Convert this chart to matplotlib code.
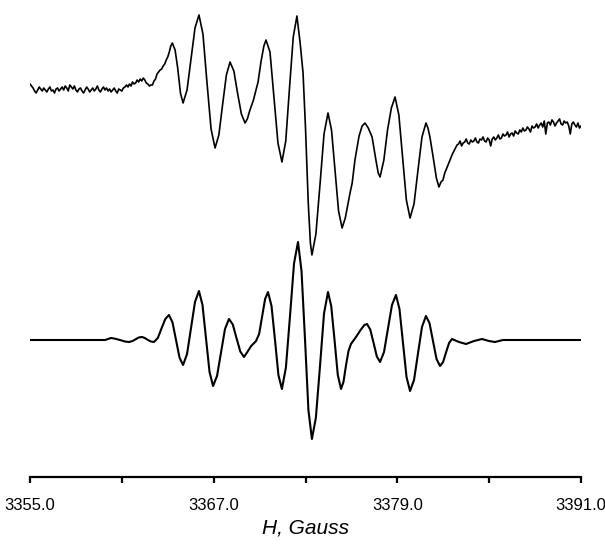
import matplotlib
matplotlib.use('Agg')
import matplotlib.pyplot as plt

# magnetic field (Gauss) and signal (arb. units)
# experimental spectrum (top)
exp_field = [
    3355.0, 3355.1, 3355.2, 3355.3, 3355.4, 3355.5, 3355.6, 3355.7, 3355.8, 3355.9,
    3356.0, 3356.1, 3356.2, 3356.3, 3356.4, 3356.5, 3356.6, 3356.7, 3356.8, 3356.9,
    3357.0, 3357.1, 3357.2, 3357.3, 3357.4, 3357.5, 3357.6, 3357.7, 3357.8, 3357.9,
    3358.0, 3358.1, 3358.2, 3358.3, 3358.4, 3358.5, 3358.6, 3358.7, 3358.8, 3358.9,
    3359.0, 3359.1, 3359.2, 3359.3, 3359.4, 3359.5, 3359.6, 3359.7, 3359.8, 3359.9,
    3360.0, 3360.1, 3360.2, 3360.3, 3360.4, 3360.5, 3360.6, 3360.7, 3360.8, 3360.9,
    3361.0, 3361.1, 3361.2, 3361.3, 3361.4, 3361.5, 3361.6, 3361.7, 3361.8, 3361.9,
    3362.0, 3362.1, 3362.2, 3362.3, 3362.4, 3362.5, 3362.6, 3362.7, 3362.8, 3362.9,
    3363.0, 3363.1, 3363.2, 3363.3, 3363.4, 3363.5, 3363.6, 3363.7, 3363.8, 3363.9,
    3364.0, 3364.1, 3364.2, 3364.3,
    3364.48, 3364.65, 3364.83, 3365.00,
    3365.26, 3365.52, 3365.78, 3366.04,
    3366.30, 3366.56, 3366.83, 3367.09,
    3367.34, 3367.58, 3367.83, 3368.07,
    3368.32, 3368.56, 3368.81, 3369.05,
    3369.20, 3369.37, 3369.60, 3369.90, 3370.10, 3370.28, 3370.42,
    3370.68, 3370.94, 3371.20, 3371.46,
    3371.71, 3371.95, 3372.20, 3372.44,
    3372.65, 3372.84, 3373.00, 3373.18, 3373.32, 3373.42,
    3373.68, 3373.95, 3374.21, 3374.47,
    3374.70, 3374.93, 3375.16, 3375.39,
    3375.60, 3375.91, 3376.05, 3376.23, 3376.50, 3376.70, 3376.89,
    3377.10, 3377.35, 3377.60, 3377.75, 3377.87,
    3378.12, 3378.36, 3378.61, 3378.85,
    3379.10, 3379.34, 3379.59, 3379.83,
    3380.09, 3380.35, 3380.61, 3380.87,
    3381.00, 3381.13, 3381.35, 3381.55, 3381.72, 3381.85, 3381.98, 3382.10,
    3382.31, 3382.60, 3382.90,
    3383.0, 3383.1, 3383.2, 3383.3, 3383.4, 3383.5, 3383.6, 3383.7, 3383.8, 3383.9,
    3384.0, 3384.1, 3384.2, 3384.3, 3384.4, 3384.5, 3384.6, 3384.7, 3384.8, 3384.9,
    3385.0, 3385.1, 3385.2, 3385.3, 3385.4, 3385.5, 3385.6, 3385.7, 3385.8, 3385.9,
    3386.0, 3386.1, 3386.2, 3386.3, 3386.4, 3386.5, 3386.6, 3386.7, 3386.8, 3386.9,
    3387.0, 3387.1, 3387.2, 3387.3, 3387.4, 3387.5, 3387.6, 3387.7, 3387.8, 3387.9,
    3388.0, 3388.1, 3388.2, 3388.3, 3388.4, 3388.5, 3388.6, 3388.7, 3388.8, 3388.9,
    3389.0, 3389.1, 3389.2, 3389.3, 3389.4, 3389.5, 3389.6, 3389.7, 3389.8, 3389.9,
    3390.0, 3390.1, 3390.2, 3390.3, 3390.4, 3390.5, 3390.6, 3390.7, 3390.8, 3390.9,
    3391.0,
]
exp_signal = [
    4, 2, 0, -3, -5, -2, 1, -1, -3, 0,
    -2, -4, -1, 1, -3, -2, -5, -1, 0, -3,
    -1, 1, -2, 2, 0, -3, 3, 1, -1, 2,
    -2, -4, -1, 0, -3, -5, -2, 1, -1, -4,
    -2, 0, -3, -1, 2, -2, -4, -1, 1, -2,
    0, -3, -1, -4, -2, 0, -3, -5, -1, -2,
    -3, 0, 1, 3, 1, 4, 2, 6, 4, 5,
    8, 6, 9, 7, 10, 8, 5, 4, 2, 3,
    3, 7, 9, 14, 16, 18, 19, 22, 24, 28,
    31, 36, 42, 45,
    38, 20, -5, -15,
    -2, 29, 60, 73,
    54, 6, -41, -60,
    -47, -17, 13, 26,
    17, -5, -26, -35,
    -31, -22, -12, 6, 27, 42, 48,
    36, -10, -55, -74,
    -53, -1, 51, 72,
    45, 15, -40, -115, -155, -167,
    -146, -96, -46, -25,
    -42, -82, -123, -140,
    -130, -105, -95, -72, -48, -38, -35,
    -40, -49, -72, -85, -89,
    -72, -42, -20, -9,
    -27, -69, -112, -130,
    -116, -82, -49, -35,
    -40, -49, -70, -90, -99, -94, -92, -85,
    -77, -66, -57,
    -56, -53, -58, -55, -54, -51, -55, -56, -52, -54,
    -53, -50, -54, -55, -51, -52, -49, -53, -54, -50,
    -52, -58, -51, -49, -52, -50, -47, -51, -50, -46,
    -48, -47, -44, -49, -46, -45, -48, -43, -45, -46,
    -42, -44, -40, -43, -42, -39, -41, -44, -38, -40,
    -39, -36, -40, -37, -35, -39, -33, -46, -35, -34,
    -37, -32, -34, -38, -35, -33, -31, -36, -37, -33,
    -35, -34, -38, -46, -36, -34, -37, -39, -35, -40,
    -38,
]

# simulated spectrum (bottom)
sim_field = [
    3355.00, 3359.90, 3360.10, 3360.29, 3360.50, 3360.88, 3361.20, 3361.47,
    3361.70, 3361.93, 3362.10, 3362.32, 3362.50, 3362.71, 3362.90, 3363.10,
    3363.35, 3363.59, 3363.84, 3364.08,
    3364.31, 3364.54, 3364.77, 3365.00,
    3365.26, 3365.52, 3365.78, 3366.04,
    3366.27, 3366.50, 3366.73, 3366.96,
    3367.22, 3367.48, 3367.74, 3368.00,
    3368.25, 3368.49, 3368.74, 3368.98,
    3369.20, 3369.45, 3369.77, 3369.97, 3370.16, 3370.36, 3370.55,
    3370.78, 3371.01, 3371.23, 3371.46,
    3371.72, 3371.99, 3372.25, 3372.51,
    3372.74, 3372.97, 3373.19, 3373.42,
    3373.68, 3373.95, 3374.21, 3374.47,
    3374.68, 3374.90, 3375.11, 3375.32,
    3375.48, 3375.65, 3375.81, 3375.97,
    3376.30, 3376.60, 3376.85, 3377.02,
    3377.23, 3377.45, 3377.66, 3377.87,
    3378.13, 3378.39, 3378.65, 3378.91,
    3379.14, 3379.37, 3379.60, 3379.83,
    3380.09, 3380.35, 3380.61, 3380.87,
    3381.10, 3381.33, 3381.56, 3381.79,
    3381.99, 3382.18, 3382.38, 3382.57,
    3383.03, 3383.49, 3384.01, 3384.53, 3384.99, 3385.38, 3385.90, 3391.00,
]
sim_signal = [
    0, 0, 1, 2, 1.5, 0, -1.5, -2,
    -1, 1, 2.5, 3, 2, 0, -1.5, -2,
    2, 11.5, 21, 25,
    17.7, 0, -17.7, -25,
    -14, 12, 38, 49,
    35, 1.5, -32, -46,
    -36, -12.5, 11, 21,
    15.5, 2, -11.5, -17,
    -12, -6, -1, 6, 23, 41, 48,
    34, -0.5, -35, -49,
    -27.5, 24.5, 76.5, 98,
    69, 0, -70, -99,
    -77.5, -25.5, 26.5, 48,
    34, -0.5, -35, -49,
    -42, -25, -11, -4,
    3, 10, 15, 16,
    10.5, -3, -16.5, -22,
    -12, 11.5, 35, 45,
    31, -3, -37, -51,
    -40, -13.5, 13, 24,
    17, -1, -19, -26,
    -22, -12.5, -3, 1,
    -2, -4, -1, 1, -1, -2, 0, 0,
]

tick_pos = [3355, 3361, 3367, 3373, 3379, 3385, 3391]
tick_labels = ['3355.0', '', '3367.0', '', '3379.0', '', '3391.0']

fig = plt.figure(figsize=(6.05, 5.45), dpi=100)
ax = fig.add_axes([30 / 605, 68 / 545, 551 / 605, 472 / 545])

ax.plot(exp_field, [389 + v for v in exp_signal], color='black', lw=1.2,
        solid_joinstyle='round')
ax.plot(sim_field, [137 + v for v in sim_signal], color='black', lw=1.5,
        solid_joinstyle='round')

ax.set_xlim(3355, 3391)
ax.set_ylim(0, 472)

for s in ['left', 'right', 'top']:
    ax.spines[s].set_visible(False)
ax.spines['bottom'].set_linewidth(1.6)
ax.set_yticks([])
ax.set_xticks(tick_pos)
ax.set_xticklabels(tick_labels, fontfamily='Liberation Sans', fontsize=12)
ax.tick_params(axis='x', direction='out', length=4, width=1.6, pad=11)
ax.set_xlabel('H, Gauss', fontfamily='Liberation Sans', fontstyle='italic',
              fontsize=15, labelpad=4)

fig.savefig('out.png', dpi=100)
